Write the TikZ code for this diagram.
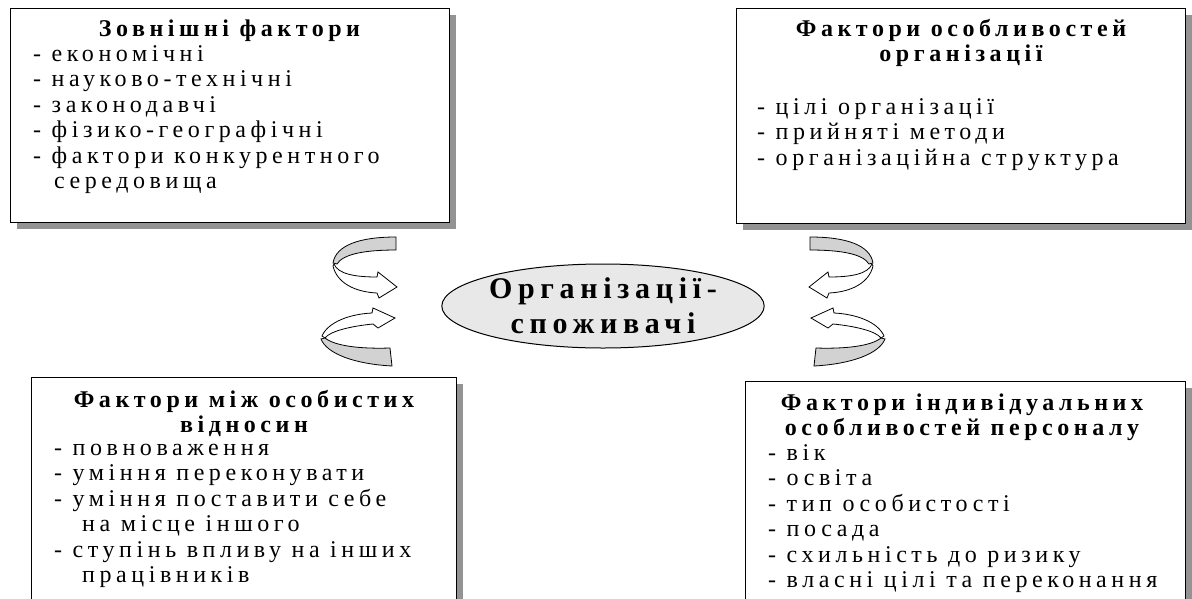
\documentclass[tikz,border=0pt]{standalone}
\usepackage{fontspec}
\setmainfont{Liberation Serif}[LetterSpace=19]
\usetikzlibrary{positioning,shapes.geometric,shadows}

\tikzset{
  factorbox/.style={draw=black, line width=1.2pt, fill=white, rectangle,
    anchor=north west, inner sep=0pt,
    drop shadow={shadow xshift=6pt, shadow yshift=-6pt, fill=gray!85, opacity=1}},
  boxtitle/.style={font=\fontsize{24}{25.5}\selectfont\bfseries, align=center, inner sep=0pt, anchor=base},
  boxitems/.style={font=\fontsize{24}{25.5}\selectfont, align=left, inner sep=0pt, anchor=base west},
  swirlback/.style={draw=black, line width=0.8pt, fill=gray!35},
  swirlfront/.style={draw=black, line width=0.8pt, fill=white},
}

\begin{document}
\begin{tikzpicture}[x=1pt,y=-1pt]

		\clip (0,0) rectangle (1192,598);

		% four factor boxes
		\node[factorbox, minimum width=439pt, minimum height=214pt]
		(extbox) at (10,8) {};
		\node[factorbox, minimum width=449pt, minimum height=215pt]
		(orgbox) at (736,8) {};
		\node[factorbox, minimum width=425pt, minimum height=260pt]
		(relbox) at (31,377) {};
		\node[factorbox, minimum width=440pt, minimum height=260pt]
		(persbox) at (745,381) {};

		% texts, placed by the baseline of their last line
		\node[boxtitle] (exttitle) at (229.5,36)
		{Зовнішні фактори};
		\node[boxitems] (extlist) at (33,188.5)
		{- економічні\\- науково-технічні\\- законодавчі\\- фізико-географічні\\- фактори конкурентного\\\hspace*{21pt}середовища};

		\node[boxtitle] (orgtitle) at (961,61.5)
		{Фактори особливостей\\організації};
		\node[boxitems] (orglist) at (757,165)
		{- цілі організації\\- прийняті методи\\- організаційна структура};

		\node[boxtitle] (reltitle) at (244,432.5)
		{Фактори між особистих\\відносин};
		\node[boxitems] (rellist) at (54,582.5)
		{- повноваження\\- уміння переконувати\\- уміння поставити себе\\\hspace*{28pt}на місце іншого\\- ступінь впливу на інших\\\hspace*{28pt}працівників};

		\node[boxtitle] (perstitle) at (962,435.5)
		{Фактори індивідуальних\\особливостей персоналу};
		\node[boxitems] (perslist) at (768,587.5)
		{- вік\\- освіта\\- тип особистості\\- посада\\- схильність до ризику\\- власні цілі та переконання};

		% centre
		\node[ellipse, draw, line width=1pt, fill=gray!18,
		minimum width=318pt, minimum height=84pt, inner sep=0pt,
		font=\fontsize{30}{35}\selectfont\bfseries, align=center]
		(consumer) at (603,306) {Організації-\\споживачі};

		% turning arrows, left pair and its mirror
		\foreach \flip/\shift in {1/0,-1/1206}
		{
		\begin{scope}[xshift=\shift pt, xscale=\flip]
		\draw[swirlback]
		(396,237) .. controls (360,237) and (336,245) .. (333,263)
		-- (337,264) .. controls (343,254) and (365,250) .. (396,250) -- cycle;
		\draw[swirlfront]
		(334,264) .. controls (338,274) and (355,277) .. (377,277)
		-- (378,272) -- (397,287) -- (379,298) -- (377,293)
		.. controls (355,292) and (337,283) .. (333,266) -- cycle;
		\draw[swirlfront]
		(322,336) .. controls (328,322) and (350,314) .. (372,313)
		-- (373,308) -- (395,318) -- (378,328) -- (373,324)
		.. controls (352,326) and (330,331) .. (325,338) -- cycle;
		\draw[swirlback]
		(325,338) .. controls (335,346) and (360,349) .. (390,348)
		-- (392,366) .. controls (355,364) and (327,354) .. (321,339) -- cycle;
		\end{scope}
		}

	\end{tikzpicture}
\end{document}
